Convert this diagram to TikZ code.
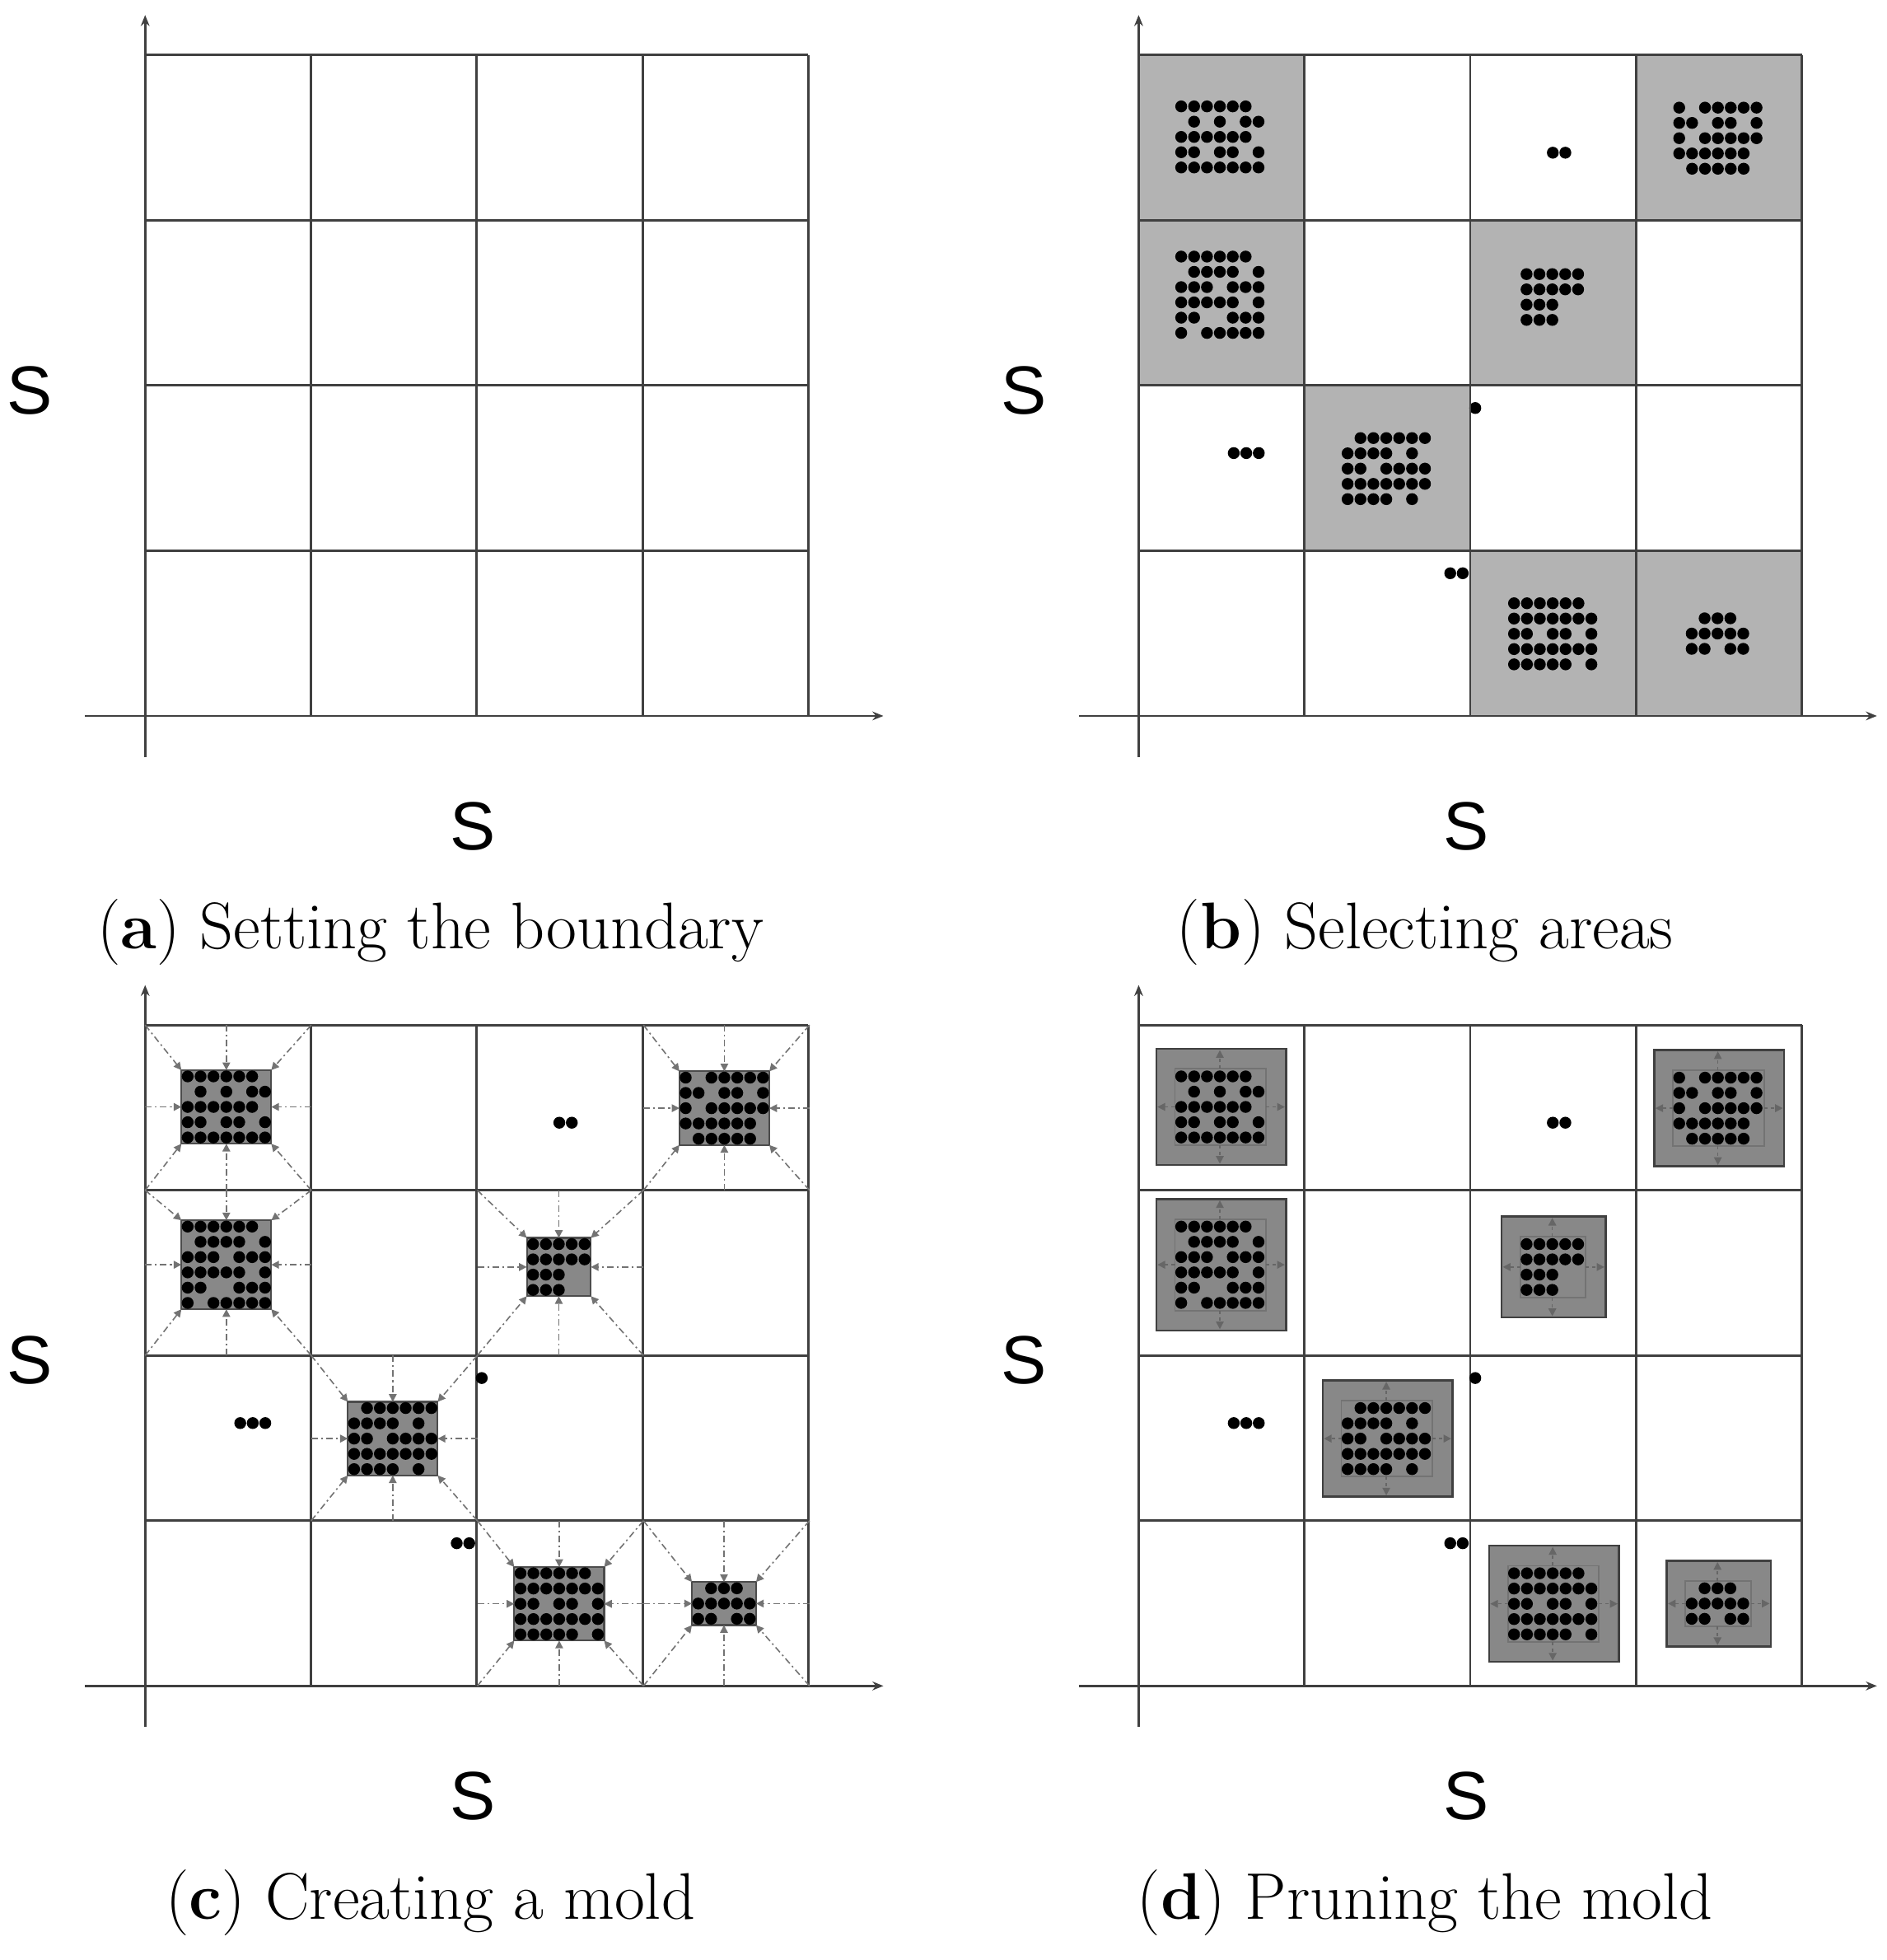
\documentclass[tikz,border=0pt]{standalone}
\usepackage{fontspec}
\newfontfamily\sansS{Liberation Sans}
\usetikzlibrary{arrows.meta}
\definecolor{lightg}{HTML}{B3B3B3}
\definecolor{moldg}{HTML}{888888}
\definecolor{gridc}{HTML}{404040}
\tikzset{
  gridl/.style={draw=gridc,line width=1.1pt},
  axis/.style={draw=gridc,line width=1pt,-{Stealth[length=5pt,width=4pt]}},
  mline/.style={draw=black!55,line width=0.6pt,dash pattern=on 3pt off 1.5pt on 0.8pt off 1.5pt,-{Triangle[length=3.5pt,width=3.5pt]}},
  dline/.style={draw=black!60,line width=0.6pt,dash pattern=on 1.5pt off 1.5pt,-{Triangle[length=3.5pt,width=3.5pt]}},
  slab/.style={font=\sansS\fontsize{31}{36}\selectfont},
  captxt/.style={font=\fontsize{30}{36}\selectfont},
  dot/.style={fill=black}
}
\newcommand\mydots[3]{\foreach \rr [count=\ii from 0] in {#3}{\foreach \cc in \rr {\fill[dot] (#1+\cc*10.3,#2+\ii*12.2) circle[radius=0.095cm];}}}
\def\ox{0}\def\oy{0}\def\mode{1}
% #1 x0 #2 y0 #3 nc #4 nr #5 col #6 row #7 rows
\newcommand\cluster[7]{%
 \pgfmathsetmacro\xa{\ox+#1}\pgfmathsetmacro\ya{\oy+#2}%
 \pgfmathsetmacro\xb{\xa+(#3-1)*10.3}\pgfmathsetmacro\yb{\ya+(#4-1)*12.2}%
 \pgfmathsetmacro\xm{(\xa+\xb)/2}\pgfmathsetmacro\ym{(\ya+\yb)/2}%
 \pgfmathsetmacro\cx{\ox+910+#5*132.75}\pgfmathsetmacro\cy{\oy+44+#6*132}%
 \pgfmathsetmacro\cxx{\cx+132.75}\pgfmathsetmacro\cyy{\cy+132}%
 \ifnum\mode=1
   \fill[lightg] (\cx,\cy) rectangle (\cxx,\cyy);
 \fi
 \ifnum\mode=2
   \filldraw[fill=moldg,draw=black!70,line width=0.8pt] (\xa-5,\ya-5) rectangle (\xb+5,\yb+5);
   \draw[mline] (\cx,\cy) -- (\xa-5,\ya-5);
   \draw[mline] (\cxx,\cy) -- (\xb+5,\ya-5);
   \draw[mline] (\cx,\cyy) -- (\xa-5,\yb+5);
   \draw[mline] (\cxx,\cyy) -- (\xb+5,\yb+5);
   \draw[mline] (\xm,\cy) -- (\xm,\ya-5);
   \draw[mline] (\xm,\cyy) -- (\xm,\yb+5);
   \draw[mline] (\cx,\ym) -- (\xa-5,\ym);
   \draw[mline] (\cxx,\ym) -- (\xb+5,\ym);
 \fi
 \ifnum\mode=3
   \filldraw[fill=moldg,draw=black!75,line width=0.9pt] (\xa-20,\ya-22) rectangle (\xb+22,\yb+22);
   \draw[black!55,line width=0.7pt] (\xa-5,\ya-6) rectangle (\xb+6,\yb+6);
   \draw[dline] (\xm,\ya-6) -- (\xm,\ya-21);
   \draw[dline] (\xm,\yb+6) -- (\xm,\yb+21);
   \draw[dline] (\xa-5,\ym) -- (\xa-19,\ym);
   \draw[dline] (\xb+6,\ym) -- (\xb+21,\ym);
 \fi
 \mydots{\xa}{\ya}{#7}%
}
\newcommand\allclusters{%
 \cluster{944}{85}{7}{5}{0}{0}{{0,1,2,3,4,5},{1,3,5,6},{0,1,2,3,4,5},{0,1,3,4,6},{0,1,2,3,4,5,6}}%
 \cluster{944}{205}{7}{6}{0}{1}{{0,1,2,3,4,5},{1,2,3,4,6},{0,1,2,4,5,6},{0,1,2,3,4,6},{0,1,4,5,6},{0,2,3,4,5,6}}%
 \cluster{1342}{86}{7}{5}{3}{0}{{0,2,3,4,5,6},{0,1,3,4,6},{0,2,3,4,5,6},{0,1,2,3,4,5},{1,2,3,4,5}}%
 \cluster{1220}{219}{5}{4}{2}{1}{{0,1,2,3,4},{0,1,2,3,4},{0,1,2},{0,1,2}}%
 \cluster{1077}{350}{7}{5}{1}{2}{{1,2,3,4,5,6},{0,1,2,3,5},{0,1,3,4,5,6},{0,1,2,3,4,5,6},{0,1,2,3,5}}%
 \cluster{1210}{482}{7}{5}{2}{3}{{0,1,2,3,4,5},{0,1,2,3,4,5,6},{0,1,3,4,6},{0,1,2,3,4,5,6},{0,1,2,3,4,6}}%
 \cluster{1352}{494}{5}{3}{3}{3}{{1,2,3},{0,1,2,3,4},{0,1,3,4}}%
 \foreach \px/\py in {1241/122,1251/122,986/362,996/362,1006/362,1179/326,1159/458,1169/458}
   {\fill[dot] (\ox+\px,\oy+\py) circle[radius=0.095cm];}%
}
% grid and axes: #1 gx #2 gy
\newcommand\panelgrid[2]{%
 \foreach \i in {0,...,4}{
   \draw[gridl] (#1+\i*132.5,#2) -- (#1+\i*132.5,#2+528);
   \draw[gridl] (#1,#2+\i*132) -- (#1+530,#2+\i*132);
 }
 \draw[axis] (#1,#2+561) -- (#1,#2-32);
 \draw[axis] (#1-48,#2+528) -- (#1+590,#2+528);
}
\begin{document}
\begin{tikzpicture}[x=0.02cm,y=-0.02cm]
\useasboundingbox (0,0) rectangle (1508,1566);
% panel a
\panelgrid{116}{44}
% panel b
\def\ox{0}\def\oy{0}\def\mode{1}
\allclusters
\panelgrid{910}{44}
% panel c
\def\ox{-794}\def\oy{775}\def\mode{2}
\panelgrid{116}{819}
\allclusters
% panel d
\def\ox{0}\def\oy{775}\def\mode{3}
\panelgrid{910}{819}
\allclusters
% labels
\node[slab] (sa1) at (24,312) {S};
\node[slab] (sa2) at (378,660) {S};
\node[slab] (sb1) at (818,312) {S};
\node[slab] (sb2) at (1172,660) {S};
\node[slab] (sc1) at (24,1087) {S};
\node[slab] (sc2) at (378,1435) {S};
\node[slab] (sd1) at (818,1087) {S};
\node[slab] (sd2) at (1172,1435) {S};
\node[captxt] (ca) at (344,745) {(\textbf{a}) Setting the boundary};
\node[captxt] (cb) at (1139,745) {(\textbf{b}) Selecting areas};
\node[captxt] (cc) at (344,1520) {(\textbf{c}) Creating a mold};
\node[captxt] (cd) at (1139,1520) {(\textbf{d}) Pruning the mold};
\end{tikzpicture}
\end{document}
